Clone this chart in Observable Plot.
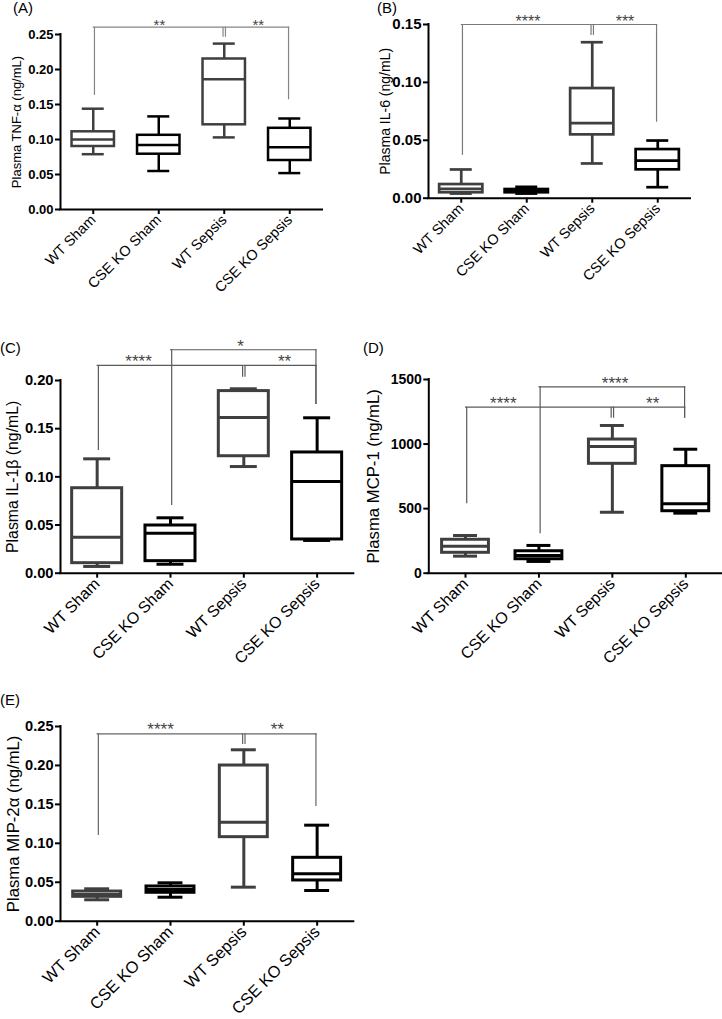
<!DOCTYPE html>
<html>
<head>
<meta charset="utf-8">
<script src="https://cdn.jsdelivr.net/npm/d3@7"></script>
<script src="https://cdn.jsdelivr.net/npm/@observablehq/plot@0.6"></script>
<style>
  html, body { margin: 0; padding: 0; background: #fff; }
  #root { position: relative; width: 722px; height: 1019px; overflow: hidden; background: #fff;
          font-family: "Liberation Sans", Arial, sans-serif; }
  .panel { position: absolute; }
  .tag { position: absolute; font-size: 15px; line-height: 1; color: #000; white-space: nowrap; }
</style>
</head>
<body>
<div id="root"></div>
<script>
// ---------- data ----------
const groups = ["WT Sham", "CSE KO Sham", "WT Sepsis", "CSE KO Sepsis"];

// (A) Plasma TNF-α (ng/mL)
const tnfMin = [0.079, 0.055, 0.103, 0.052];
const tnfQ1  = [0.090, 0.079, 0.121, 0.070];
const tnfMed = [0.100, 0.092, 0.186, 0.089];
const tnfQ3  = [0.111, 0.106, 0.215, 0.116];
const tnfMax = [0.144, 0.133, 0.237, 0.130];
const tnfTicks = [0, 0.05, 0.10, 0.15, 0.20, 0.25];
const tnfSig = [
  {a: 0, b: 2, level: 0.2604, la: 0.163, lb: 0.2461, stars: "**", sx: 1.01},
  {a: 2, b: 3, level: 0.2604, la: 0.2461, lb: 0.1567, stars: "**", sx: 2.52}
];

// (B) Plasma IL-6 (ng/mL)
const il6Min = [0.004, 0.004, 0.030, 0.0095];
const il6Q1  = [0.0047, 0.0047, 0.0547, 0.0245];
const il6Med = [0.008, 0.006, 0.0648, 0.0325];
const il6Q3  = [0.0118, 0.0075, 0.0947, 0.042];
const il6Max = [0.0248, 0.0098, 0.1347, 0.0498];
const il6Ticks = [0, 0.05, 0.10, 0.15];
const il6Sig = [
  {a: 0, b: 2, level: 0.15, la: 0.037, lb: 0.1405, stars: "****", sx: 1.02},
  {a: 2, b: 3, level: 0.15, la: 0.1405, lb: 0.0656, stars: "***", sx: 2.5}
];

// (C) Plasma IL-1β (ng/mL)
const il1Min = [0.007, 0.0093, 0.1107, 0.034];
const il1Q1  = [0.0104, 0.0125, 0.1214, 0.035];
const il1Med = [0.0374, 0.0415, 0.1616, 0.0952];
const il1Q3  = [0.0882, 0.0495, 0.189, 0.1253];
const il1Max = [0.1187, 0.0575, 0.1914, 0.1613];
const il1Ticks = [0, 0.05, 0.10, 0.15, 0.20];
const il1Sig = [
  {a: 0, b: 2, level: 0.2156, la: 0.1273, lb: 0.2034, stars: "****", sx: 0.564},
  {a: 2, b: 3, level: 0.2156, la: 0.2034, lb: 0.175, stars: "**", sx: 2.556},
  {a: 1, b: 3, level: 0.2319, la: 0.0703, lb: 0.175, stars: "*", sx: 1.956}
];

// (D) Plasma MCP-1 (ng/mL)
const mcpMin = [132, 91, 472, 465];
const mcpQ1  = [158, 108, 847, 480];
const mcpMed = [209, 137, 981, 537];
const mcpQ3  = [259, 170, 1035, 829];
const mcpMax = [292, 215, 1144, 960];
const mcpTicks = [0, 500, 1000, 1500];
const mcpSig = [
  {a: 0, b: 2, level: 1286, la: 537, lb: 1200, stars: "****", sx: 0.515},
  {a: 2, b: 3, level: 1286, la: 1200, lb: 1200, stars: "**", sx: 2.549},
  {a: 1, b: 3, level: 1443, la: 305, lb: 1200, stars: "****", sx: 2.037}
];

// (E) Plasma MIP-2α (ng/mL)
const mipMin = [0.0275, 0.0308, 0.0437, 0.0394];
const mipQ1  = [0.0313, 0.0365, 0.1079, 0.0523];
const mipMed = [0.0343, 0.0407, 0.1271, 0.0609];
const mipQ3  = [0.0381, 0.0446, 0.1999, 0.0814];
const mipMax = [0.0416, 0.0493, 0.2201, 0.1233];
const mipTicks = [0, 0.05, 0.10, 0.15, 0.20, 0.25];
const mipSig = [
  {a: 0, b: 2, level: 0.2406, la: 0.110, lb: 0.2269, stars: "****", sx: 0.864},
  {a: 2, b: 3, level: 0.2406, la: 0.2269, lb: 0.1473, stars: "**", sx: 2.456}
];

// ---------- styles / layout ----------
const FONT = "'Liberation Sans', Arial, Helvetica, sans-serif";
const groupColors = ["#3f3f3f", "#000000", "#3f3f3f", "#000000"];

const panels = [
  {tag: "(A)", tagX: 13, tagY: 0, label: "Plasma TNF-α (ng/mL)",
   min: tnfMin, q1: tnfQ1, med: tnfMed, q3: tnfQ3, max: tnfMax, ticks: tnfTicks, fmt: ".2f", sig: tnfSig,
   left: 0, top: 0, width: 360, height: 330, mL: 60, mR: 38, mT: 34, mB: 121,
   labelDx: -44, labelFont: 13, tickFont: 13, xFont: 14.5, starFont: 15, starDy: -2.5, bracket: "#858585",
   sw: 2.5, boxHalf: 0.324, capHalf: 0.168},
  {tag: "(B)", tagX: 377, tagY: 0, label: "Plasma IL-6 (ng/mL)",
   min: il6Min, q1: il6Q1, med: il6Med, q3: il6Q3, max: il6Max, ticks: il6Ticks, fmt: ".2f", sig: il6Sig,
   left: 360, top: 0, width: 362, height: 330, mL: 68, mR: 32, mT: 24, mB: 132.3,
   labelDx: -43, labelFont: 14, tickFont: 15, xFont: 14.5, starFont: 16, starDy: -2.5, bracket: "#7a7a7a",
   sw: 2.7, boxHalf: 0.33, capHalf: 0.168},
  {tag: "(C)", tagX: 0, tagY: 340, label: "Plasma IL-1β (ng/mL)",
   min: il1Min, q1: il1Q1, med: il1Med, q3: il1Q3, max: il1Max, ticks: il1Ticks, fmt: ".2f", sig: il1Sig,
   left: 0, top: 330, width: 360, height: 350, mL: 60, mR: 6.7, mT: 50, mB: 107.3,
   labelDx: -47.3, labelFont: 15.8, tickFont: 14.7, xFont: 16, starFont: 17, starDy: -3.5, bracket: "#5a5a5a",
   sw: 3, boxHalf: 0.341, capHalf: 0.184},
  {tag: "(D)", tagX: 363, tagY: 340, label: "Plasma MCP-1 (ng/mL)",
   min: mcpMin, q1: mcpQ1, med: mcpMed, q3: mcpQ3, max: mcpMax, ticks: mcpTicks, fmt: "d", sig: mcpSig,
   left: 360, top: 330, width: 362, height: 350, mL: 68.3, mR: 0, mT: 49, mB: 107.3,
   labelDx: -55, labelFont: 16.7, tickFont: 14, xFont: 16, starFont: 17, starDy: -3.5, bracket: "#5a5a5a",
   sw: 3, boxHalf: 0.319, capHalf: 0.163},
  {tag: "(E)", tagX: 0, tagY: 691.5, label: "Plasma MIP-2α (ng/mL)",
   min: mipMin, q1: mipQ1, med: mipMed, q3: mipQ3, max: mipMax, ticks: mipTicks, fmt: ".2f", sig: mipSig,
   left: 0, top: 690, width: 360, height: 329, mL: 60, mR: 6.7, mT: 36, mB: 98.3,
   labelDx: -47.3, labelFont: 16.7, tickFont: 14.6, xFont: 16.5, starFont: 17, starDy: -4, bracket: "#666666",
   sw: 3, boxHalf: 0.327, capHalf: 0.17}
];

const root = document.getElementById("root");

for (const p of panels) {
  const rows = groups.map((g, i) => ({
    i, g, min: p.min[i], q1: p.q1[i], med: p.med[i], q3: p.q3[i], max: p.max[i], color: groupColors[i]
  }));
  const yTop = p.ticks[p.ticks.length - 1];
  const bw = 1.2; // bracket line width
  const chart = Plot.plot({
    width: p.width,
    height: p.height,
    marginLeft: p.mL, marginRight: p.mR, marginTop: p.mT, marginBottom: p.mB,
    x: {type: "linear", domain: [-0.5, 3.5]},
    y: {type: "linear", domain: [0, yTop]},
    style: {fontFamily: FONT, background: "transparent", overflow: "visible"},
    marks: [
      // significance brackets
      Plot.ruleY(p.sig, {y: "level", x1: "a", x2: "b", stroke: p.bracket, strokeWidth: bw}),
      Plot.ruleX(p.sig, {x: "a", y1: "la", y2: "level", stroke: p.bracket, strokeWidth: bw, dx: 1.2}),
      Plot.ruleX(p.sig, {x: "b", y1: "lb", y2: "level", stroke: p.bracket, strokeWidth: bw, dx: -1.2}),
      Plot.text(p.sig, {x: "sx", y: "level", text: "stars", dy: p.starDy, fontSize: p.starFont, fill: "#444"}),
      // whiskers
      Plot.ruleX(rows, {x: "i", y1: "q3", y2: "max", stroke: "color", strokeWidth: p.sw}),
      Plot.ruleX(rows, {x: "i", y1: "min", y2: "q1", stroke: "color", strokeWidth: p.sw}),
      Plot.ruleY(rows, {y: "max", x1: d => d.i - p.capHalf, x2: d => d.i + p.capHalf, stroke: "color", strokeWidth: p.sw}),
      Plot.ruleY(rows, {y: "min", x1: d => d.i - p.capHalf, x2: d => d.i + p.capHalf, stroke: "color", strokeWidth: p.sw}),
      // boxes
      Plot.rect(rows, {x1: d => d.i - p.boxHalf, x2: d => d.i + p.boxHalf, y1: "q1", y2: "q3",
                       fill: "white", stroke: "color", strokeWidth: p.sw}),
      Plot.ruleY(rows, {y: "med", x1: d => d.i - p.boxHalf, x2: d => d.i + p.boxHalf, stroke: "color", strokeWidth: p.sw}),
      // axes
      Plot.axisY({ticks: p.ticks, tickFormat: p.fmt, tickSize: 5, tickPadding: 2, fontSize: p.tickFont,
                  fontWeight: "bold", strokeWidth: 2, label: null}),
      Plot.axisX({ticks: [0, 1, 2, 3], tickFormat: i => groups[i], tickRotate: -45, tickSize: 5, tickPadding: 3,
                  fontSize: p.xFont, strokeWidth: 2, label: null}),
      Plot.ruleX([-0.5], {y1: 0, y2: yTop, stroke: "black", strokeWidth: 2, strokeLinecap: "square"}),
      Plot.ruleY([0], {stroke: "black", strokeWidth: 2, strokeLinecap: "square"}),
      // y label
      Plot.text([p.label], {text: d => d, frameAnchor: "left", textAnchor: "middle", rotate: -90, dx: p.labelDx,
                            fontSize: p.labelFont, fill: "black"})
    ]
  });
  const wrap = document.createElement("div");
  wrap.className = "panel";
  wrap.style.left = p.left + "px";
  wrap.style.top = p.top + "px";
  wrap.appendChild(chart);
  root.appendChild(wrap);

  const tag = document.createElement("div");
  tag.className = "tag";
  tag.style.left = p.tagX + "px";
  tag.style.top = p.tagY + "px";
  tag.textContent = p.tag;
  root.appendChild(tag);
}
</script>
</body>
</html>
